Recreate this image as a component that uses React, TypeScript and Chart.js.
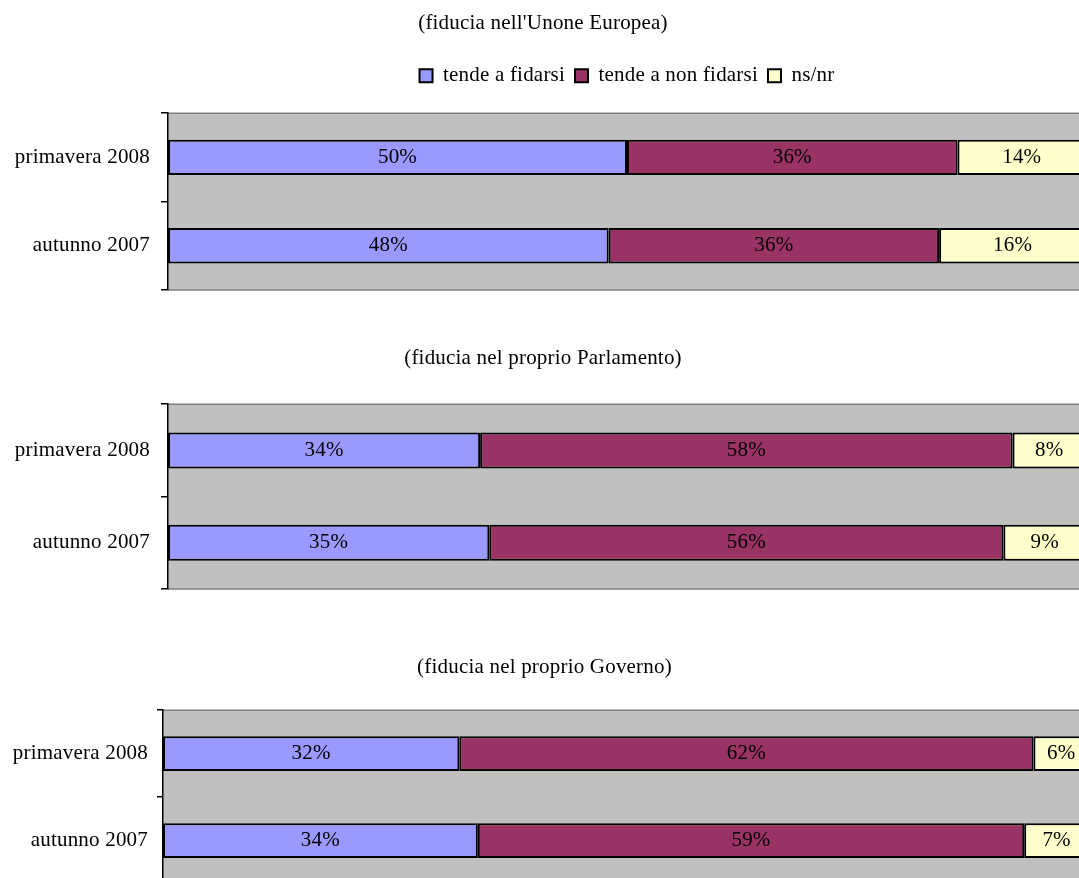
import React, { useEffect, useRef } from "react";
import { Chart, registerables } from "chart.js";

Chart.register(...registerables);

const FONT = '"Liberation Serif", "Times New Roman", serif';
const FS = 21;

const categories = ["primavera 2008", "autunno 2007"];
const seriesNames = ["tende a fidarsi", "tende a non fidarsi", "ns/nr"];
const seriesColors = ["#9999FF", "#993366", "#FFFFCC"];

const euTitle = "(fiducia nell'Unone Europea)";
const euFidarsi = [50, 48];
const euNonFidarsi = [36, 36];
const euNsnr = [14, 16];

const parlTitle = "(fiducia nel proprio Parlamento)";
const parlFidarsi = [34, 35];
const parlNonFidarsi = [58, 56];
const parlNsnr = [8, 9];

const govTitle = "(fiducia nel proprio Governo)";
const govFidarsi = [32, 34];
const govNonFidarsi = [62, 59];
const govNsnr = [6, 7];

const spacing = {
  id: "spacing",
  beforeUpdate(chart: any) {
    chart.ctx.letterSpacing = "0.2px";
  },
  beforeDraw(chart: any) {
    chart.ctx.letterSpacing = "0.2px";
  },
};

const plotBg = {
  id: "plotBg",
  beforeDraw(chart: any) {
    const { ctx, chartArea: a } = chart;
    ctx.save();
    ctx.fillStyle = "#C0C0C0";
    ctx.fillRect(a.left, a.top, a.right - a.left, a.bottom - a.top);
    ctx.strokeStyle = "#808080";
    ctx.lineWidth = 1.5;
    ctx.beginPath();
    ctx.moveTo(a.left, a.top);
    ctx.lineTo(a.right, a.top);
    ctx.moveTo(a.left, a.bottom);
    ctx.lineTo(a.right, a.bottom);
    ctx.stroke();
    ctx.restore();
  },
};

const barLabels = {
  id: "barLabels",
  afterDatasetsDraw(chart: any) {
    const { ctx } = chart;
    ctx.save();
    ctx.font = `${FS}px ${FONT}`;
    ctx.fillStyle = "#000";
    ctx.textAlign = "center";
    ctx.textBaseline = "middle";
    chart.data.datasets.forEach((ds: any, i: number) => {
      const meta = chart.getDatasetMeta(i);
      meta.data.forEach((el: any, j: number) => {
        const p = el.getCenterPoint();
        ctx.fillText(`${ds.data[j]}%`, p.x, p.y);
      });
    });
    ctx.restore();
  },
};

type PanelProps = {
  title: string;
  values: number[][];
  top: number;
  width: number;
  height: number;
  axisWidth: number;
  tickLen: number;
  labelPad: number;
  titlePadTop: number;
  titlePadBottom: number;
  showLegend: boolean;
  gap: number;
  padBottom: number;
  barPct: number;
};

function Panel(p: PanelProps) {
  const ref = useRef<HTMLCanvasElement | null>(null);
  useEffect(() => {
    if (!ref.current) return;
    const chart = new Chart(ref.current, {
      type: "bar",
      data: {
        labels: categories,
        datasets: seriesNames.map((name, i) => ({
          label: name,
          data: p.values[i],
          backgroundColor: seriesColors[i],
          borderColor: "#000",
          borderWidth: 2,
          borderSkipped: false,
          barPercentage: p.barPct,
          categoryPercentage: 1,
        })),
      },
      options: {
        indexAxis: "y",
        animation: false,
        responsive: false,
        events: [],
        layout: { padding: { left: 0, right: 0, top: 0, bottom: p.padBottom } },
        plugins: {
          title: {
            display: true,
            text: p.title,
            color: "#000",
            font: { family: FONT, size: FS, weight: "normal" },
            padding: { top: p.titlePadTop, bottom: p.titlePadBottom },
          },
          legend: {
            display: p.showLegend,
            fullSize: false,
            labels: {
              color: "#000",
              boxWidth: 13,
              boxHeight: 13,
              padding: 10,
              font: { family: FONT, size: FS },
            },
          },
          tooltip: { enabled: false },
        },
        scales: {
          x: {
            stacked: true,
            min: 0,
            max: 100,
            position: "top",
            display: true,
            ticks: { display: false },
            grid: { display: false, drawTicks: false },
            border: { display: false },
            afterFit: (s: any) => {
              s.height = p.gap;
              s.paddingLeft = 0;
              s.paddingRight = 0;
            },
          },
          y: {
            stacked: true,
            position: "left",
            grid: {
              display: true,
              drawOnChartArea: false,
              offset: true,
              color: "#000",
              lineWidth: 1.5,
              tickLength: p.tickLen,
            },
            border: { display: true, color: "#000", width: 1.5 },
            ticks: { color: "#000", padding: p.labelPad, font: { family: FONT, size: FS } },
            afterFit: (s: any) => {
              s.width = p.axisWidth;
              s.paddingTop = 0;
              s.paddingBottom = 0;
            },
          },
        },
      } as any,
      plugins: [spacing, plotBg, barLabels],
    });
    return () => chart.destroy();
  }, []);
  return (
    <canvas
      ref={ref}
      width={p.width}
      height={p.height}
      style={{ position: "absolute", left: 0, top: p.top, display: "block" }}
    />
  );
}

export default function App() {
  return (
    <div
      style={{
        position: "fixed",
        left: 0,
        top: 0,
        width: 1079,
        height: 878,
        overflow: "hidden",
        background: "#fff",
      }}
    >
      <Panel
        title={euTitle}
        values={[euFidarsi, euNonFidarsi, euNsnr]}
        top={0}
        width={1086}
        height={300}
        axisWidth={168}
        tickLen={7}
        labelPad={11}
        titlePadTop={11}
        titlePadBottom={19}
        showLegend={true}
        gap={17}
        padBottom={10}
        barPct={0.4}
      />
      <Panel
        title={parlTitle}
        values={[parlFidarsi, parlNonFidarsi, parlNsnr]}
        top={330}
        width={1086}
        height={270}
        axisWidth={168}
        tickLen={7}
        labelPad={11}
        titlePadTop={16}
        titlePadBottom={33}
        showLegend={false}
        gap={0}
        padBottom={11}
        barPct={0.39}
      />
      <Panel
        title={govTitle}
        values={[govFidarsi, govNonFidarsi, govNsnr]}
        top={640}
        width={1089}
        height={250}
        axisWidth={163}
        tickLen={6}
        labelPad={9}
        titlePadTop={15}
        titlePadBottom={30}
        showLegend={false}
        gap={0}
        padBottom={6}
        barPct={0.4}
      />
    </div>
  );
}
